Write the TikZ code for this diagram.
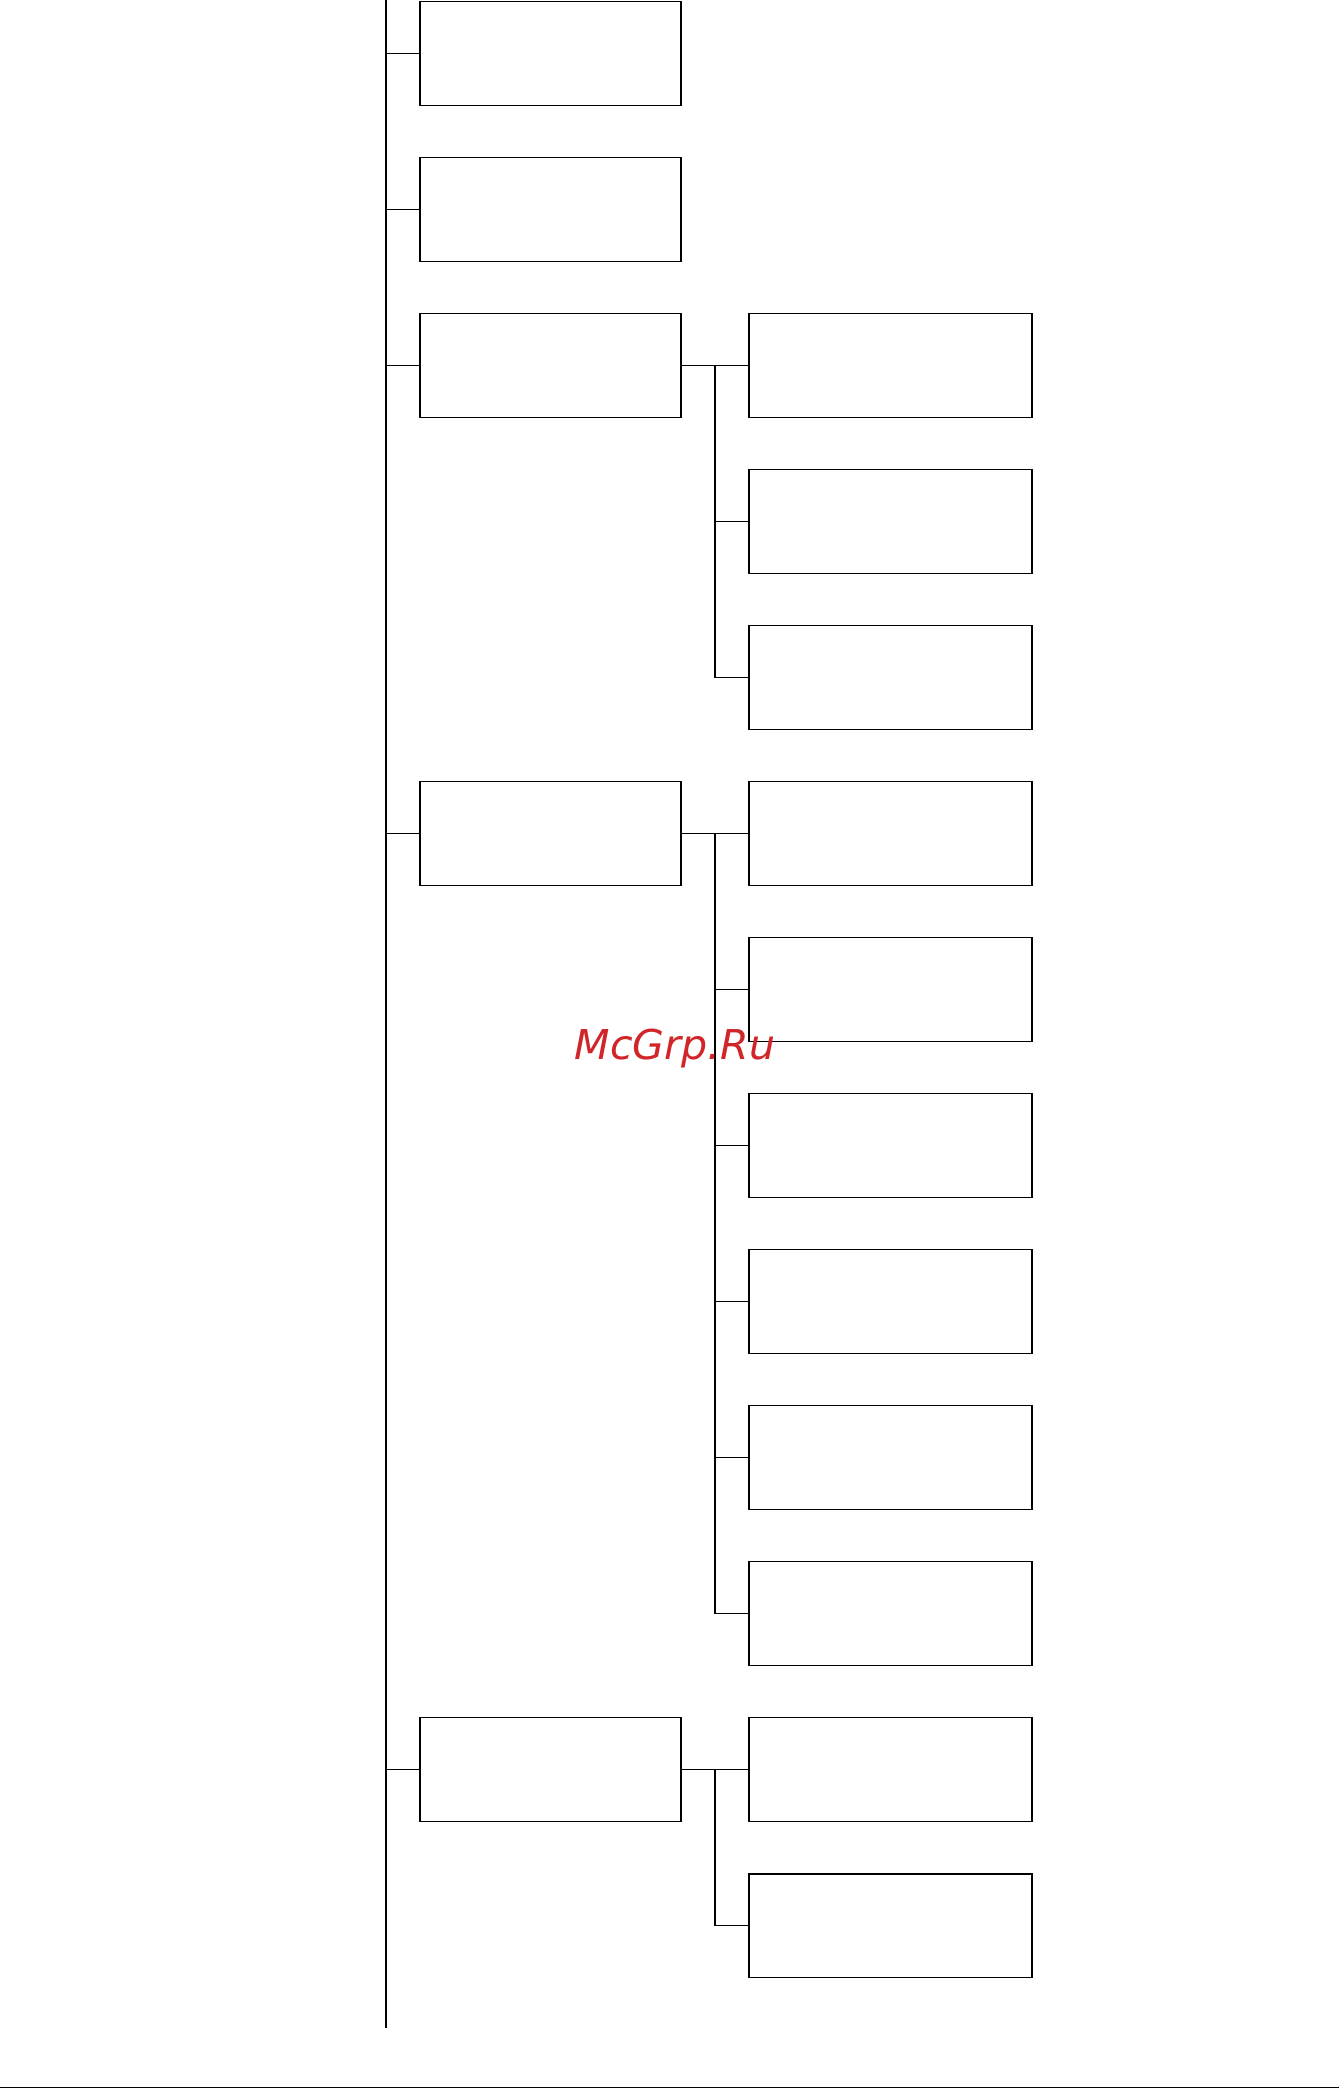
\documentclass[tikz,border=0pt]{standalone}
\usepackage{fontspec}
\newfontfamily\markfont{DejaVu Sans}
\usetikzlibrary{positioning,calc}
\definecolor{markred}{RGB}{208,38,42}

\begin{document}
\begin{tikzpicture}[x=0.02cm,y=-0.02cm,
  line/.style={line width=1.1pt,black},
  mainbox/.style={draw,line width=1.1pt,minimum width=5.22cm,minimum height=2.08cm,inner sep=0pt},
  subbox/.style={draw,line width=1.1pt,minimum width=5.65cm,minimum height=2.08cm,inner sep=0pt},
  watermark/.style={font=\markfont\itshape\fontsize{23.4}{28}\selectfont,text=markred,inner sep=0pt,anchor=base}
]
\useasboundingbox (0,0) rectangle (1339,2088);

% trunk and spines
\coordinate (trunktop) at (386,0);
\coordinate (trunkbot) at (386,2028);
\coordinate (spine) at (715,0);

% main column
\foreach \k in {0,1,2,5,11}
  \node[mainbox] (m\k) at (550.5,53.5+156*\k) {};
% second column
\foreach \k in {2,...,12}
  \node[subbox] (s\k) at (890.5,53.5+156*\k) {};

\draw[line] (trunktop) -- (trunkbot);
\foreach \k in {0,1,2,5,11}
  \draw[line] (trunktop |- m\k.west) -- (m\k.west);

% groups under the main boxes
\foreach \k/\last in {2/4,5/10,11/12} {
  \draw[line] (m\k.east) -- (s\k.west);
  \draw[line] (spine |- s\k.west) -- (spine |- s\last.west);
}
\foreach \k in {3,4,6,7,8,9,10,12}
  \draw[line] (spine |- s\k.west) -- (s\k.west);

% rule at the foot of the page
\coordinate (footl) at (0,2087.3);
\coordinate (footr) at (1339,2087.3);
\draw[line width=0.6pt] (footl) -- (footr);

\node[watermark] (mark) at (675,1059) {McGrp.Ru};
\end{tikzpicture}
\end{document}
